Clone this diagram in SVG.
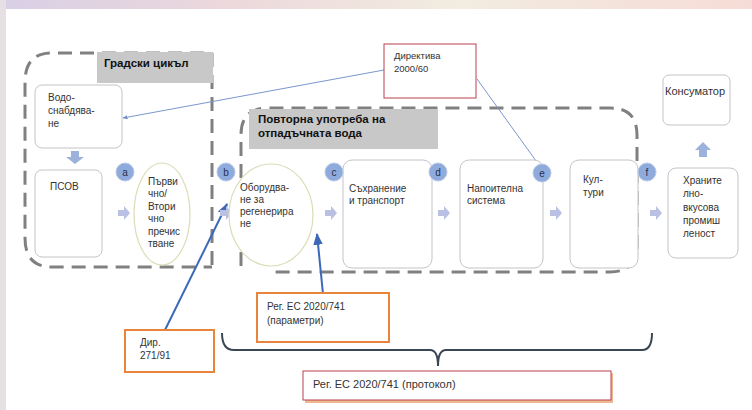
<svg xmlns="http://www.w3.org/2000/svg" width="752" height="410" viewBox="0 0 752 410">
<defs>
<style>
text{font-family:"Liberation Sans",Arial,sans-serif;font-size:10px;fill:#333;}
.b{font-weight:bold;fill:#111;font-size:11.5px;}
.box{fill:#fff;stroke:#c4c4c8;stroke-width:1;}
.ell{fill:#fff;stroke:#dcdcb8;stroke-width:1.2;}
.dash{fill:none;stroke:#808080;stroke-width:3;stroke-dasharray:14 8;}
.lbl{fill:#c8c8c8;}
.cir{fill:#8fabdc;stroke:#b7c8e8;stroke-width:1;}
.cir+text{font-size:10px;fill:#1f3050;text-anchor:middle;}
.arr{fill:#b9c0e2;}
.red{fill:#fff;stroke:#b8404c;stroke-width:1;}
.org{fill:#fff;stroke:#e8843c;stroke-width:2;}
.thin{stroke:#7b96cc;stroke-width:1;fill:none;}
.thick{stroke:#3d68b8;stroke-width:2;fill:none;}
</style>
<marker id="ah" viewBox="0 0 10 10" refX="9" refY="5" markerWidth="6" markerHeight="6" orient="auto"><path d="M0,1 L10,5 L0,9 z" fill="#3d68b8"/></marker>
<marker id="ahs" viewBox="0 0 10 10" refX="9" refY="5" markerWidth="5" markerHeight="5" orient="auto"><path d="M0,1 L10,5 L0,9 z" fill="#6f8cc6"/></marker>
<linearGradient id="bg" x1="0" y1="0" x2="1" y2="0">
<stop offset="0" stop-color="#d8cfe6"/><stop offset="0.3" stop-color="#ecd8dc"/><stop offset="0.6" stop-color="#f2ece0"/><stop offset="1" stop-color="#f6dcd6"/>
</linearGradient>
</defs>
<rect width="752" height="410" fill="#fff"/>
<rect x="0" y="0" width="752" height="9" fill="url(#bg)"/>
<rect x="0" y="0" width="6" height="410" fill="#e6e0e4"/>

<g id="urban-cycle">
<path class="dash" d="M212,265 L212,53 L52,53 Q25,53 25,82 L25,238 Q25,267 52,267 L212,267"/>
<rect class="lbl" x="97" y="52" width="116" height="31"/>
<text class="b" x="104" y="67">Градски цикъл</text>
</g>
<g id="reuse">
<path class="dash" d="M241,266 L241,135 Q241,108 268,108 L610,108 Q637,108 637,135 L637,245 Q637,272 610,272 L268,272"/>
<rect class="lbl" x="249" y="109" width="189" height="40"/>
<text class="b" x="258" y="123">Повторна употреба на</text>
<text class="b" x="258" y="137">отпадъчната вода</text>
</g>

<g id="connectors">
<path class="thin" d="M384,70 L123,118" marker-end="url(#ahs)"/>
<path class="thin" d="M477,79 L539,165" marker-end="url(#ahs)"/>
<path class="thick" d="M165,330 L227,204" marker-end="url(#ah)"/>
<path class="thick" d="M323,294 L317,234" marker-end="url(#ah)"/>
<path d="M222,333 Q222,350 234,350 L430,350 Q438,350 438,366 Q438,350 446,350 L642,350 Q652,350 652,333" fill="none" stroke="#3a4654" stroke-width="2"/>
<path d="M71,151 H79 V157 H84 L75,164 L66,157 H71 Z" fill="#9cb2da"/>
<path class="arr" d="M118,210 H124 V206 L130,213 L124,220 V216 H118 Z"/>
<path class="arr" d="M220,210 H226 V206 L232,213 L226,220 V216 H220 Z"/>
<path class="arr" d="M325,210 H331 V206 L337,213 L331,220 V216 H325 Z"/>
<path class="arr" d="M438,210 H444 V206 L450,213 L444,220 V216 H438 Z"/>
<path class="arr" d="M550,210 H556 V206 L562,213 L556,220 V216 H550 Z"/>
<path class="arr" d="M650,210 H656 V206 L662,213 L656,220 V216 H650 Z"/>
<path d="M699,157 V150 H695 L703,142 L711,150 H707 V157 Z" fill="#9cb2da"/>
</g>

<g id="water-supply">
<rect class="box" x="35" y="85" width="87" height="63" rx="7"/>
<text x="48" y="101">Водо-</text><text x="48" y="114">снабдява-</text><text x="48" y="127">не</text>
</g>
<g id="psov">
<rect class="box" x="35" y="170" width="67" height="87" rx="7"/>
<text x="50" y="190">ПСОВ</text>
</g>
<g id="treatment">
<ellipse class="ell" cx="162" cy="214" rx="28" ry="51"/>
<text x="148" y="185">Първи</text><text x="148" y="197">чно/</text><text x="148" y="210">Втори</text><text x="148" y="222">чно</text><text x="148" y="235">пречис</text><text x="148" y="247">тване</text>
</g>
<g id="regeneration">
<ellipse class="ell" cx="271" cy="215" rx="42" ry="51"/>
<text x="240" y="191">Оборудва-</text><text x="240" y="203">не за</text><text x="240" y="215">регенерира</text><text x="240" y="227">не</text>
</g>
<g id="storage">
<rect class="box" x="343" y="160" width="89" height="108" rx="9"/>
<text x="349" y="192">Съхранение</text><text x="349" y="204">и транспорт</text>
</g>
<g id="irrigation">
<rect class="box" x="460" y="160" width="83" height="108" rx="9"/>
<text x="467" y="192">Напоителна</text><text x="467" y="204">система</text>
</g>
<g id="crops">
<rect class="box" x="570" y="160" width="68" height="108" rx="9"/>
<text x="583" y="183">Кул-</text><text x="583" y="196">тури</text>
</g>
<g id="food-industry">
<rect class="box" x="668" y="168" width="70" height="90" rx="8"/>
<text x="683" y="184">Храните</text><text x="683" y="197">лно-</text><text x="683" y="211">вкусова</text><text x="683" y="224">промиш</text><text x="683" y="237">леност</text>
</g>
<g id="consumer">
<rect class="box" x="663" y="75" width="67" height="50" rx="6"/>
<text x="665" y="95" style="font-size:11px">Консуматор</text>
</g>

<g id="label-a"><circle class="cir" cx="125" cy="172" r="9"/><text x="125" y="176">a</text></g>
<g id="label-b"><circle class="cir" cx="226" cy="172" r="9"/><text x="226" y="176">b</text></g>
<g id="label-c"><circle class="cir" cx="334" cy="172" r="9"/><text x="334" y="176">c</text></g>
<g id="label-d"><circle class="cir" cx="438" cy="172" r="9"/><text x="438" y="176">d</text></g>
<g id="label-e"><circle class="cir" cx="542" cy="173" r="9"/><text x="542" y="177">e</text></g>
<g id="label-f"><circle class="cir" cx="647" cy="172" r="9"/><text x="647" y="176">f</text></g>

<g id="directive-2000">
<rect class="red" x="384" y="44" width="92" height="54"/>
<text x="394" y="59" style="font-size:9.5px">Директива</text><text x="394" y="72" style="font-size:9.5px">2000/60</text>
</g>
<g id="reg-params">
<rect class="org" x="257" y="293" width="132" height="49"/>
<text x="267" y="310">Рег. ЕС 2020/741</text><text x="267" y="324">(параметри)</text>
</g>
<g id="dir-271">
<rect class="org" x="125" y="330" width="89" height="42"/>
<text x="140" y="346">Дир.</text><text x="140" y="359">271/91</text>
</g>
<g id="reg-protocol">
<rect x="305" y="373" width="308" height="30" fill="#f0b890"/>
<rect class="red" x="303" y="371" width="308" height="29"/>
<text x="313" y="388" style="font-size:11px">Рег. ЕС 2020/741 (протокол)</text>
</g>
</svg>
